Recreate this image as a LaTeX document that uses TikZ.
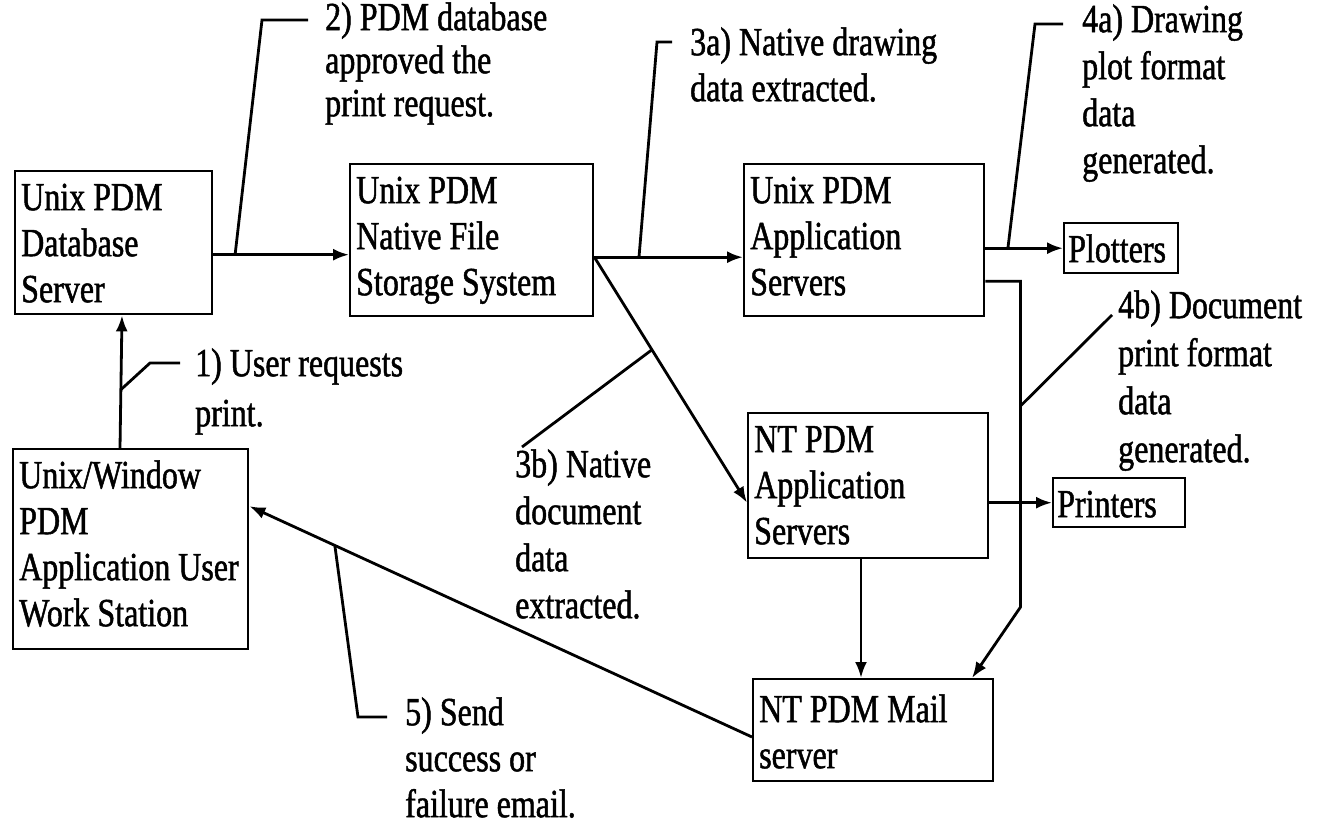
\documentclass[tikz,border=0pt]{standalone}
\usepackage{fontspec}
\setmainfont{Liberation Serif}[FakeStretch=0.8,FakeBold=1.2]
\usetikzlibrary{arrows.meta,calc}
\newcommand\firststrut{\rule{0pt}{30pt}}
\tikzset{
  box/.style={draw, line width=2.4pt, anchor=north west, inner sep=0pt},
  txt/.style={anchor=north west, align=left, inner sep=0pt, font=\fontsize{40}{46}\selectfont},
  boxlbl/.style={txt, xshift=7pt, yshift=-10pt},
  conn/.style={line width=2.8pt, -{Latex[length=16pt,width=12pt]}},
  lead/.style={line width=2.8pt},
}
\begin{document}
\begin{tikzpicture}[x=1pt,y=-1pt]
\useasboundingbox (0,0) rectangle (1324,827);
% boxes
\node[box, minimum width=197pt, minimum height=143pt,
  label={[boxlbl]north west:{\firststrut Unix PDM\\Database\\Server}}] (db) at (14,170) {};
\node[box, minimum width=243pt, minimum height=152pt,
  label={[boxlbl]north west:{\firststrut Unix PDM\\Native File\\Storage System}}] (st) at (349,163) {};
\node[box, minimum width=240pt, minimum height=152pt,
  label={[boxlbl]north west:{\firststrut Unix PDM\\Application\\Servers}}] (ua) at (743,163) {};
\node[box, minimum width=235pt, minimum height=200pt,
  label={[boxlbl]north west:{\firststrut Unix/Window\\PDM\\Application User\\Work Station}}] (ws) at (12,448) {};
\node[box, minimum width=240pt, minimum height=145pt,
  label={[boxlbl]north west:{\firststrut NT PDM\\Application\\Servers}}] (nt) at (747,412) {};
\node[box, minimum width=240pt, minimum height=102pt,
  label={[boxlbl, yshift=-4pt]north west:{\firststrut NT PDM Mail\\server}}] (ml) at (752,678) {};
\node[box, minimum width=114pt, minimum height=50pt,
  label={[boxlbl, xshift=-2pt]north west:{\firststrut Plotters}}] (pl) at (1063,222) {};
\node[box, minimum width=132pt, minimum height=49pt,
  label={[boxlbl, xshift=-2pt]north west:{\firststrut Printers}}] (pr) at (1052,477) {};

% annotation texts
\node[txt, font=\fontsize{40}{50}\selectfont] (t1) at (195,346) {\firststrut 1) User requests\\print.};
\node[txt, font=\fontsize{40}{43}\selectfont] (t2) at (325,0) {\firststrut 2) PDM database\\approved the\\print request.};
\node[txt] (t3a) at (690,25) {\firststrut 3a) Native drawing\\data extracted.};
\node[txt, font=\fontsize{40}{47}\selectfont] (t4a) at (1082,2) {\firststrut 4a) Drawing\\plot format\\data\\generated.};
\node[txt, font=\fontsize{40}{47}\selectfont] (t3b) at (515,447) {\firststrut 3b) Native\\document\\data\\extracted.};
\node[txt, font=\fontsize{40}{48}\selectfont] (t4b) at (1118,288) {\firststrut 4b) Document\\print format\\data\\generated.};
\node[txt] (t5) at (405,695) {\firststrut 5) Send\\success or\\failure email.};

% connectors
\draw[conn] ([xshift=108pt]ws.north west) -- ([xshift=108pt]db.south west) coordinate[pos=0.44] (l1);
\coordinate (a1) at ([yshift=-12pt]db.east);
\draw[conn] (a1) -- (a1 -| st.west) coordinate[pos=0.16] (l2);
\coordinate (a2) at ([yshift=-17pt]st.east);
\draw[conn] (a2) -- (a2 -| ua.west) coordinate[pos=0.30] (l3a);
\draw[conn] (ua.east |- pl.west) -- (pl.west) coordinate[pos=0.29] (l4a);
\draw[conn] (a2) -- ([yshift=-17pt]nt.west) coordinate[pos=0.377] (l3b);
\draw[conn] (nt.east |- pr.west) -- (pr.west);
\draw[conn] ([xshift=114pt]nt.south west) -- ([xshift=109pt]ml.north west);
\coordinate (k0) at ([yshift=-41pt]ua.east);
\coordinate (kv1) at ($(k0)+(35,0)$);
\coordinate (kv2) at ($(kv1)+(0,326)$);
\draw[conn] (k0) -- (kv1) -- (kv2) -- ([xshift=220pt]ml.north west);
\draw[conn] ([yshift=-59pt]ml.north west) -- ([yshift=43pt]ws.east) coordinate[pos=0.83] (l5);

% leaders
\coordinate (c1) at (150,363); \coordinate (e1) at (180,363);
\draw[lead] (l1) -- (c1) -- (e1);
\coordinate (c2) at (262,20); \coordinate (e2) at (308,20);
\draw[lead] (l2) -- (c2) -- (e2);
\coordinate (c3a) at (657,42); \coordinate (e3a) at (672,42);
\draw[lead] (l3a) -- (c3a) -- (e3a);
\coordinate (c4a) at (1035,24); \coordinate (e4a) at (1063,24);
\draw[lead] (l4a) -- (c4a) -- (e4a);
\coordinate (e3b) at (522,447);
\draw[lead] (l3b) -- (e3b);
\coordinate (e4b) at (1112,315);
\draw[lead] ($(kv1)!0.383!(kv2)$) -- (e4b);
\coordinate (c5) at (358,717); \coordinate (e5) at (387,717);
\draw[lead] (l5) -- (c5) -- (e5);
\end{tikzpicture}
\end{document}
